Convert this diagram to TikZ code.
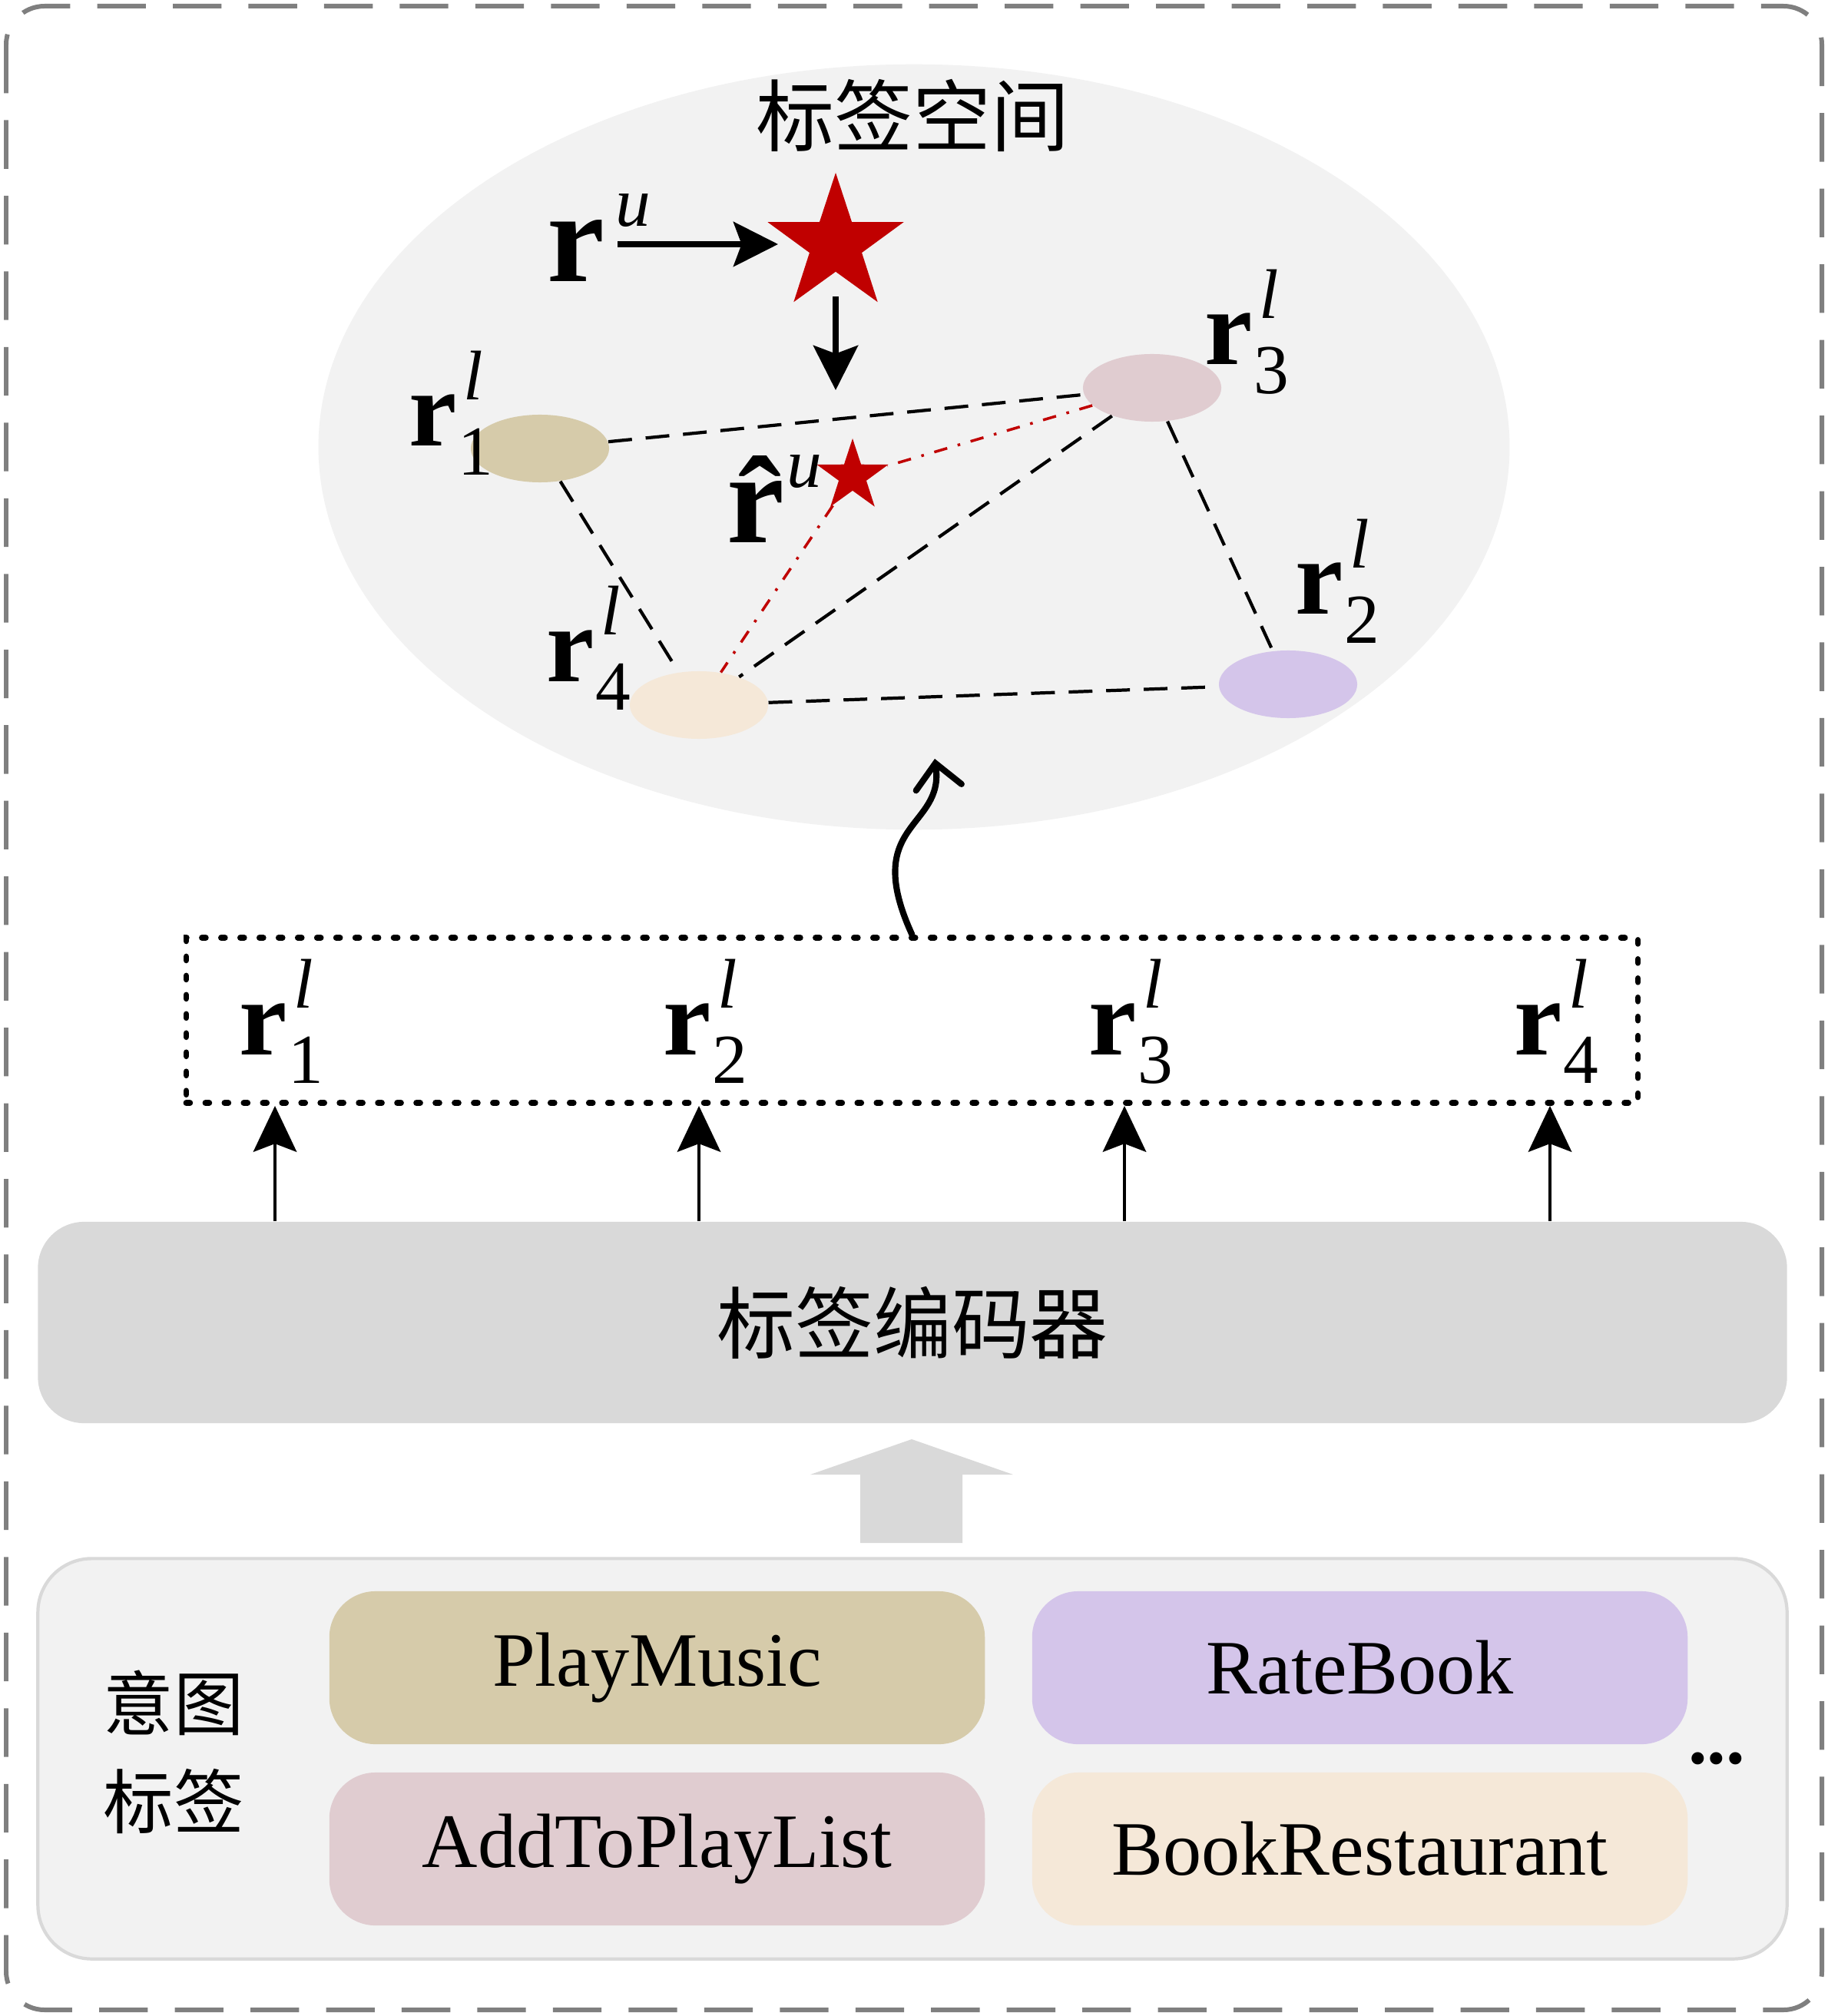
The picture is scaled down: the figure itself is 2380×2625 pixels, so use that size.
\documentclass[tikz,border=0pt]{standalone}
\usepackage{fontspec}
\setmainfont{Liberation Serif}
\newfontfamily\cjk{Noto Sans CJK SC}
\usetikzlibrary{arrows.meta, shapes.geometric}
\definecolor{spacegray}{HTML}{F2F2F2}
\definecolor{encgray}{HTML}{D9D9D9}
\definecolor{framegray}{HTML}{7F7F7F}
\definecolor{starred}{HTML}{C00000}
\definecolor{cplay}{HTML}{D6CBAA}
\definecolor{crate}{HTML}{D4C5EA}
\definecolor{cadd}{HTML}{E0CCD0}
\definecolor{cbook}{HTML}{F5E8D8}
\NewDocumentCommand{\sfs}{}{\fontsize{26}{26}\selectfont}
\NewDocumentCommand{\rsym}{s m o}{%
  \IfBooleanTF{#1}{\textbf{\^{r}}\kern-0.22em}{\textbf{r}}%
  \IfNoValueTF{#3}{%
    \kern0.08em\raisebox{0.43em}{\sfs\textit{#2}}%
  }{%
    \rlap{\kern0.06em\raisebox{0.43em}{\sfs\textit{#2}}}%
    \kern0.01em\raisebox{-0.27em}{\sfs #3}%
  }%
}
\tikzset{
  blob/.style={ellipse, minimum width=1.8cm, minimum height=0.88cm, inner sep=0pt},
  pill/.style={rectangle, rounded corners=0.6cm, minimum width=8.53cm, minimum height=1.99cm,
    font=\fontsize{28.5}{30}\selectfont},
  rlabel/.style={anchor=base west, inner sep=0pt, font=\fontsize{40}{46}\selectfont},
  ulabel/.style={anchor=base west, inner sep=0pt, font=\fontsize{48}{54}\selectfont},
  link/.style={line width=1.2pt, dash pattern=on 8.8pt off 5.1pt},
  predlink/.style={starred, line width=1pt, dash pattern=on 5pt off 4pt on 1pt off 4pt},
  bigarrow/.style={line width=2.2pt, -{Stealth[length=16.5pt, width=16.5pt, inset=3pt]}},
  uparrow/.style={line width=1.4pt, -{Stealth[length=17pt, width=16pt, inset=3pt]}},
  wave/.style={line width=2.3pt, line cap=round, line join=round,
    -{Straight Barb[length=9pt, width=17pt, line cap=round]}},
}

\begin{document}
\begin{tikzpicture}[x=0.01cm, y=-0.01cm]
    \useasboundingbox (0,0) rectangle (2380,2625);
    \draw[framegray, line width=1.7pt, dash pattern=on 18pt off 10pt, rounded corners=0.5cm]
        (8,8) rectangle (2372,2617);

    % label space
    \node[ellipse, fill=spacegray, minimum width=15.5cm, minimum height=9.96cm, inner sep=0pt] (space) at (1190,582) {};
    \node[font=\cjk\fontsize{29}{30}\selectfont] (title) at (1188,150) {标签空间};

    \node[star, star points=5, star point ratio=2.6, minimum size=1.86cm, inner sep=0pt, fill=starred] (star) at (1088,318) {};
    \node[star, star points=5, star point ratio=2.6, minimum size=0.98cm, inner sep=0pt, fill=starred] (shat) at (1110,620) {};

    \node[blob, fill=cplay] (e1) at (703,584) {};
    \node[blob, fill=crate] (e2) at (1677,891) {};
    \node[blob, fill=cadd] (e3) at (1500,505) {};
    \node[blob, fill=cbook] (e4) at (910,918) {};

    \node[ulabel] (ru) at (712,367) {\rsym{u}};
    \node[ulabel] (rhat) at (946,707) {\rsym*{u}};
    \node[rlabel] (l1) at (532,581) {\rsym{l}[1]};
    \node[rlabel] (l2) at (1686,800) {\rsym{l}[2]};
    \node[rlabel] (l3) at (1568,475) {\rsym{l}[3]};
    \node[rlabel] (l4) at (711,887) {\rsym{l}[4]};

    \coordinate (ustart) at (804,318);
    \coordinate (dtip) at (1088,508);
    \draw[bigarrow, shorten >=7pt] (ustart) -- (star);
    \draw[bigarrow, shorten <=9pt] (star) -- (dtip);

    \path[link] (e1) edge (e3) edge (e4);
    \path[link] (e3) edge (e4) edge (e2);
    \path[link] (e4) edge (e2);
    \path[predlink] (e3) edge (shat) (shat) edge (e4);

    % label vectors
    \node[draw, line width=2.2pt, line cap=round, dash pattern=on 1.4pt off 5.7pt,
        minimum width=18.89cm, minimum height=2.15cm] (rbox) at (1187.5,1328.5) {};
    \node[rlabel] (v1) at (311,1373) {\rsym{l}[1]};
    \node[rlabel] (v2) at (863,1373) {\rsym{l}[2]};
    \node[rlabel] (v3) at (1417,1373) {\rsym{l}[3]};
    \node[rlabel] (v4) at (1971,1373) {\rsym{l}[4]};

    \coordinate (wtip) at (1217,988);
    \draw[wave] (rbox.north) .. controls (1120,1070) and (1230,1080) .. (wtip);

    % encoder
    \node[rectangle, rounded corners=0.6cm, fill=encgray, minimum width=22.76cm, minimum height=2.62cm,
        font=\cjk\fontsize{29}{30}\selectfont] (enc) at (1188,1722) {标签编码器};

    \coordinate (c1) at (358,1500);
    \coordinate (c2) at (910,1500);
    \coordinate (c3) at (1464,1500);
    \coordinate (c4) at (2018,1500);
    \draw[uparrow] (c1 |- enc.north) -- (c1 |- rbox.south);
    \draw[uparrow] (c2 |- enc.north) -- (c2 |- rbox.south);
    \draw[uparrow] (c3 |- enc.north) -- (c3 |- rbox.south);
    \draw[uparrow] (c4 |- enc.north) -- (c4 |- rbox.south);

    \fill[encgray] (1120,2009) -- (1120,1920) -- (1055,1920) -- (1187,1874)
        -- (1319,1920) -- (1253,1920) -- (1253,2009) -- cycle;

    % intent labels
    \node[rectangle, rounded corners=0.7cm, fill=spacegray, draw=encgray, line width=1.2pt,
        minimum width=22.76cm, minimum height=5.21cm] (intent) at (1188,2290) {};
    \node[align=center, font=\cjk\fontsize{26}{36.5}\selectfont] (itag) at (226,2281) {意图\\标签};
    \node[pill, fill=cplay] (pm) at (855.5,2171.5) {PlayMusic};
    \node[pill, fill=crate] (rb) at (1770.5,2171.5) {RateBook};
    \node[pill, fill=cadd] (ap) at (855.5,2407.5) {AddToPlayList};
    \node[pill, fill=cbook] (br) at (1770.5,2407.5) {BookRestaurant};
    \node[anchor=base, inner sep=0pt, font=\bfseries\fontsize{28}{30}\selectfont] (dots) at (2235,2296) {...};
\end{tikzpicture}
\end{document}
